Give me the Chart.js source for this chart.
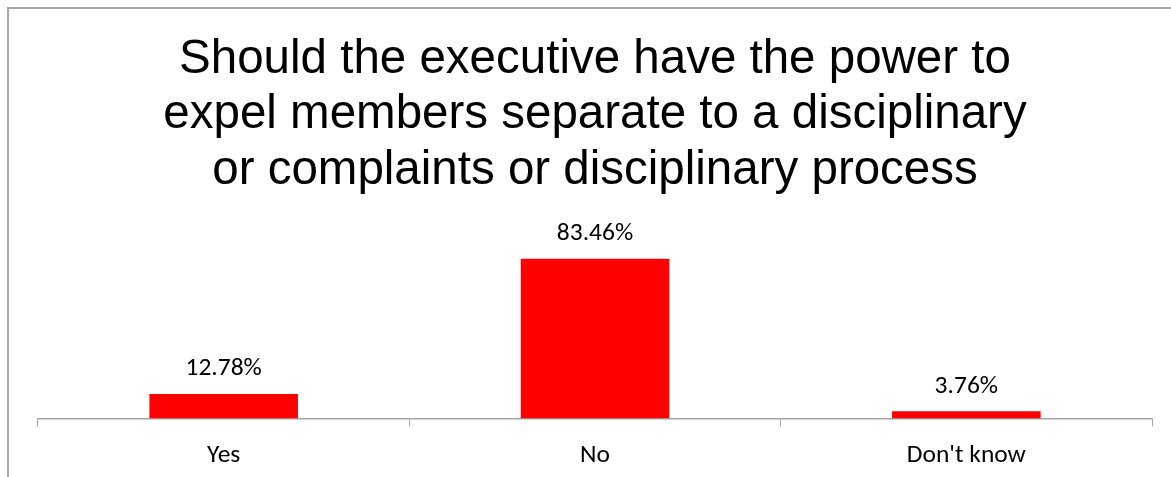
<!DOCTYPE html>
<html>
<head>
<meta charset="utf-8">
<script src="https://cdn.jsdelivr.net/npm/chart.js@4.4.1/dist/chart.umd.min.js"></script>
<style>
    html, body { margin: 0; padding: 0; background: #fff; overflow: hidden; }
    body { width: 1171px; height: 477px; position: relative; }
    .frame {
        position: absolute; left: 7px; top: 7px;
        width: 1200px; height: 520px;
        border-left: 2px solid #a6a6a6; border-top: 2px solid #a6a6a6;
    }
    .frame canvas { position: absolute; left: 1px; top: 1px; }
</style>
</head>
<body>
<div class="frame">
    <canvas id="chart" width="1161" height="485" style="width:1161px;height:485px"></canvas>
</div>
<script>
const titleLines = [
    'Should the executive have the power to',
    'expel members separate to a disciplinary',
    'or complaints or disciplinary process'
];
const categories = ['Yes', 'No', "Don't know"];
const percentages = [12.78, 83.46, 3.76];

const labelFont = 'Carlito, "Open Sans", sans-serif';

// value labels above each bar, positioned from the bar elements
const barLabels = {
    id: 'barLabels',
    afterDatasetsDraw(chart) {
        const ctx = chart.ctx;
        const meta = chart.getDatasetMeta(0);
        ctx.save();
        ctx.font = `25.5px ${labelFont}`;
        ctx.fillStyle = '#000';
        ctx.textAlign = 'center';
        ctx.textBaseline = 'alphabetic';
        meta.data.forEach((bar, i) => {
            ctx.fillText(percentages[i].toFixed(2) + '%', bar.x, bar.y - 18.5);
        });
        ctx.restore();
    }
};

new Chart(document.getElementById('chart').getContext('2d'), {
    type: 'bar',
    data: {
        labels: categories,
        datasets: [{
            data: percentages,
            backgroundColor: '#ff0000',
            borderWidth: 0,
            categoryPercentage: 1,
            barPercentage: 0.4
        }]
    },
    options: {
        responsive: false,
        animation: false,
        layout: { padding: { left: 28, right: 19, top: 0, bottom: 10 } },
        plugins: {
            legend: { display: false },
            tooltip: { enabled: false },
            title: {
                display: true,
                text: titleLines,
                color: '#000',
                font: { family: '"Liberation Sans", Arial, sans-serif', size: 47.5, weight: 'normal', lineHeight: 1.17 },
                padding: { top: 22, bottom: 28.5 }
            }
        },
        scales: {
            y: { display: false, min: 0, max: 100 },
            x: {
                border: { display: true, color: '#a6a6a6', width: 1.5 },
                grid: { display: true, drawOnChartArea: false, drawTicks: true, tickLength: 8, color: '#a6a6a6', offset: true },
                ticks: { color: '#000', padding: 14, font: { family: labelFont, size: 25.5 } }
            }
        }
    },
    plugins: [barLabels]
});
</script>
</body>
</html>
